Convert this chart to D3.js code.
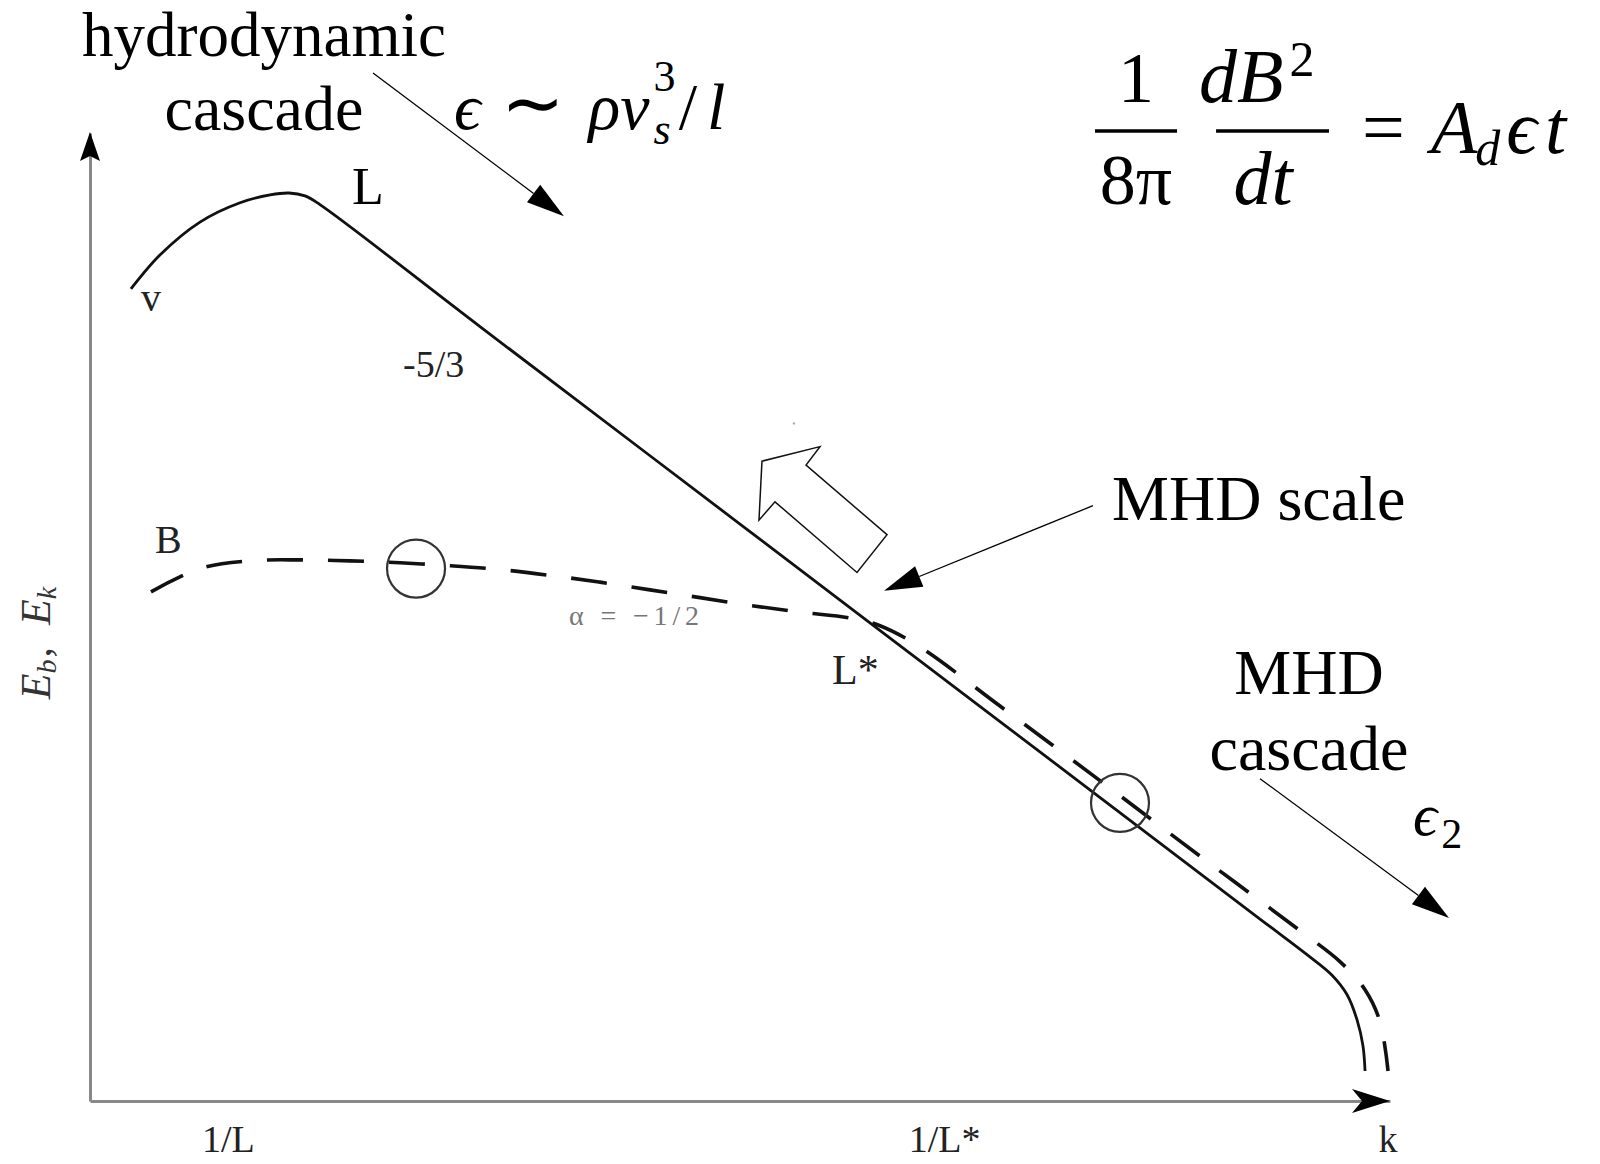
<!DOCTYPE html>
<html>
<head>
<meta charset="utf-8">
<script src="https://cdn.jsdelivr.net/npm/d3@7/dist/d3.min.js"></script>
<style>
body{margin:0;background:#fff}
svg text{font-family:"Liberation Serif","Times New Roman",serif;white-space:pre}
</style>
</head>
<body>
<div id="chart"></div>
<script>
// sketch of spectra, log k (x) vs log E (y), arbitrary units 0..10
var vCurve = [[0.315,8.39],[0.538,8.74],[0.846,9.08],[1.154,9.28],[1.385,9.36],[1.531,9.38],[1.654,9.35],[1.769,9.26],
  [3.0,8.0],[5.0,5.96],[7.0,3.92],[9.0,1.88],[9.354,1.52],[9.554,1.30],[9.669,1.10],[9.746,0.84],[9.792,0.57],[9.808,0.31]];
var bCurve = [[0.469,5.26],[0.846,5.50],[1.231,5.58],[1.615,5.59],[2.0,5.58],[2.385,5.56],[2.769,5.53],[3.154,5.49],
  [3.538,5.43],[3.923,5.36],[4.308,5.28],[4.692,5.20],[5.077,5.12],[5.462,5.05],[5.846,4.99],[6.077,4.91],[6.385,4.69],
  [7.0,4.08],[7.769,3.31],[8.538,2.53],[9.308,1.76],[9.615,1.44],[9.808,1.15],[9.923,0.82],[9.985,0.31]];
var xTicks = [1.06, 6.57, 9.98];
var xTickLabels = ["1/L", "1/L*", "k"];
var circles = [[2.508,5.50],[7.923,3.08]];
var blockArrow = [[5.169,6.61],[5.615,6.76],[5.508,6.57],[6.131,5.85],[5.9,5.46],[5.269,6.19],[5.146,6.0]];
// pointer arrows: [from, to]
var pointers = [[[2.177,10.62],[3.646,9.14]], [[7.715,6.15],[6.108,5.27]], [[9.0,3.33],[10.454,1.89]]];

var W = 1600, H = 1164;
var svg = d3.select("#chart").append("svg").attr("width", W).attr("height", H);

var x = d3.scaleLinear().domain([0,10]).range([90,1390]);
var y = d3.scaleLinear().domain([0,10]).range([1101,133]);

// axes
var xAxis = svg.append("g")
  .attr("transform", "translate(0," + y(0) + ")")
  .call(d3.axisBottom(x).tickValues(xTicks).tickFormat(function(d,i){ return xTickLabels[i]; })
    .tickSize(0).tickSizeOuter(0).tickPadding(24));
xAxis.select(".domain").attr("stroke", "#888").attr("stroke-width", 3);
xAxis.selectAll("text").attr("font-family", "Liberation Serif").attr("font-size", 38).attr("fill", "#222");

var yAxis = svg.append("g")
  .attr("transform", "translate(" + x(0) + ",0)")
  .call(d3.axisLeft(y).tickValues([]).tickSizeOuter(0));
yAxis.select(".domain").attr("stroke", "#888").attr("stroke-width", 3);

// axis arrow heads
var x0 = x(0), y0 = y(0), xe = x(10), ye = y(10);
svg.append("path").attr("fill", "#000")
  .attr("d", "M" + x0 + "," + (ye-1) + "L" + (x0-10) + "," + (ye+28) + "L" + x0 + "," + (ye+23) + "L" + (x0+10) + "," + (ye+28) + "Z");
svg.append("path").attr("fill", "#000")
  .attr("d", "M" + xe + "," + y0 + "L" + (xe-38) + "," + (y0-12) + "L" + (xe-28) + "," + y0 + "L" + (xe-38) + "," + (y0+12) + "Z");

// curves
var line = d3.line().x(function(d){ return x(d[0]); }).y(function(d){ return y(d[1]); }).curve(d3.curveCatmullRom.alpha(0.5));
svg.append("path").datum(vCurve).attr("d", line).attr("fill", "none").attr("stroke", "#111").attr("stroke-width", 2.8);
svg.append("path").datum(bCurve).attr("d", line).attr("fill", "none").attr("stroke", "#111").attr("stroke-width", 3.6)
  .attr("stroke-dasharray", "36,25");

// circles
svg.selectAll(".ring").data(circles).enter().append("circle")
  .attr("cx", function(d){ return x(d[0]); }).attr("cy", function(d){ return y(d[1]); })
  .attr("r", 29).attr("fill", "none").attr("stroke", "#333").attr("stroke-width", 2.2);

// hollow block arrow
svg.append("path").datum(blockArrow)
  .attr("d", d3.line().x(function(d){ return x(d[0]); }).y(function(d){ return y(d[1]); }).curve(d3.curveLinearClosed))
  .attr("fill", "#fff").attr("stroke", "#111").attr("stroke-width", 1.5);
svg.append("circle").attr("cx", x(5.415)).attr("cy", y(7.0)).attr("r", 1.2).attr("fill", "#aaa");

// pointer arrows
pointers.forEach(function(p){
  var a = [x(p[0][0]), y(p[0][1])], b = [x(p[1][0]), y(p[1][1])];
  var ang = Math.atan2(b[1]-a[1], b[0]-a[0]), len = 38, hw = 11;
  var bx = b[0] - len*Math.cos(ang), by = b[1] - len*Math.sin(ang);
  svg.append("line").attr("x1", a[0]).attr("y1", a[1]).attr("x2", bx).attr("y2", by)
    .attr("stroke", "#000").attr("stroke-width", 1.3);
  svg.append("path").attr("fill", "#000")
    .attr("d", "M" + b[0] + "," + b[1] + "L" + (bx + hw*Math.sin(ang)) + "," + (by - hw*Math.cos(ang)) +
      "L" + (bx - hw*Math.sin(ang)) + "," + (by + hw*Math.cos(ang)) + "Z");
});

// text helpers
function label(s, xd, yd, size, opt) {
  opt = opt || {};
  return svg.append("text").attr("x", x(xd)).attr("y", y(yd)).attr("font-size", size)
    .attr("text-anchor", opt.anchor || "start").attr("fill", opt.fill || "#000")
    .attr("font-style", opt.it ? "italic" : "normal")
    .attr("font-family", opt.sans ? "Liberation Sans" : null).text(s);
}
function run(parts, px, py, parent) {
  var g = (parent || svg).append("g"), cx = px;
  parts.forEach(function(p){
    var t = g.append("text").attr("x", cx + (p.dx||0)).attr("y", py + (p.dy||0))
      .attr("font-size", p.size).attr("font-style", p.it ? "italic" : "normal").attr("fill", p.fill || "#000").text(p.t);
    if (!p.hold) cx += t.node().getComputedTextLength() + (p.dx||0);
  });
  return {g: g, w: cx - px};
}

label("hydrodynamic", 1.338, 10.80, 63, {anchor: "middle"});
label("cascade", 1.338, 10.03, 64, {anchor: "middle"});
label("L", 2.015, 9.27, 52);
label("v", 0.392, 8.16, 40, {fill: "#222"});
label("-5/3", 2.408, 7.48, 38, {sans: true, fill: "#222"});
label("B", 0.5, 5.66, 40, {fill: "#222"});
label("α = −1/2", 3.685, 4.92, 28, {fill: "#777"}).attr("textLength", 130);
label("L*", 5.708, 4.31, 42, {fill: "#222"});
label("MHD scale", 7.862, 6.0, 64);
label("MHD", 9.377, 4.20, 64, {anchor: "middle"});
label("cascade", 9.377, 3.42, 64, {anchor: "middle"});

// epsilon ~ rho v_s^3 / l
run([{t:"ϵ", size:66, it:true}, {t:"∼", size:76, dx:20}, {t:"ρv", size:66, it:true, dx:24},
     {t:"3", size:44, dy:-38, dx:4, hold:true}, {t:"s", size:44, it:true, dy:15, dx:4},
     {t:"/", size:66, dx:8}, {t:"l", size:66, it:true, dx:10}], x(2.8), y(10.04));

// epsilon_2
run([{t:"ϵ", size:60, it:true}, {t:"2", size:42, dy:13, dx:4}], x(10.177), y(2.75));

// (1/8pi) dB^2/dt = A_d eps t
label("1", 8.046, 10.32, 72, {anchor: "middle"});
label("8π", 8.046, 9.267, 72, {anchor: "middle"});
svg.append("line").attr("x1", x(7.731)).attr("x2", x(8.362)).attr("y1", y(10.02)).attr("y2", y(10.02))
  .attr("stroke", "#000").attr("stroke-width", 3.5);
run([{t:"dB", size:76, it:true}, {t:"2", size:50, dy:-26, dx:6}], x(8.531), y(10.32));
label("dt", 9.023, 9.267, 76, {anchor: "middle", it: true});
svg.append("line").attr("x1", x(8.662)).attr("x2", x(9.531)).attr("y1", y(10.02)).attr("y2", y(10.02))
  .attr("stroke", "#000").attr("stroke-width", 3.5);
run([{t:"=", size:76}, {t:"A", size:76, it:true, dx:26}, {t:"d", size:50, it:true, dy:12, dx:-2},
     {t:"ϵ", size:76, it:true, dx:6}, {t:"t", size:76, it:true, dx:8}], x(9.785), y(9.793));

// y axis label, rotated
var yl = svg.append("g").attr("transform", "translate(50,643) rotate(-90)");
var r = run([{t:"E", size:42, it:true, fill:"#333"}, {t:"b", size:28, it:true, dy:6, fill:"#333"},
             {t:",", size:42, fill:"#333", dx:2}, {t:"E", size:42, it:true, fill:"#333", dx:22},
             {t:"k", size:28, it:true, dy:6, fill:"#333"}], 0, 0, yl);
r.g.attr("transform", "translate(" + (-r.w/2) + ",0)");
</script>
</body>
</html>
